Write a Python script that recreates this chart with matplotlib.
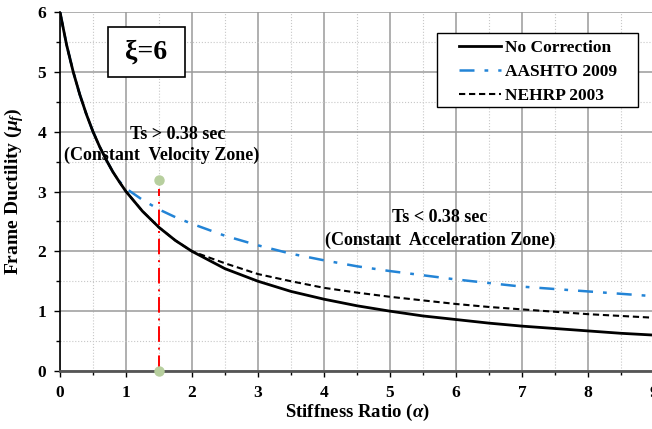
import matplotlib.pyplot as plt
from matplotlib.patches import Rectangle
from matplotlib.ticker import MultipleLocator

plt.rcParams['font.family'] = ['Liberation Serif', 'DejaVu Serif']
plt.rcParams['font.weight'] = 'bold'
plt.rcParams['mathtext.fontset'] = 'custom'
plt.rcParams['mathtext.rm'] = 'Liberation Serif:bold'
plt.rcParams['mathtext.it'] = 'Liberation Serif:italic:bold'

# stiffness ratio and frame ductility
alpha = [0, 0.1, 0.2, 0.3, 0.4, 0.5, 0.6, 0.7, 0.8, 0.9, 1.0, 1.25, 1.5, 1.75,
         2.0, 2.5, 3.0, 3.5, 4.0, 4.5, 5.0, 5.5, 6.0, 6.5, 7.0, 7.5, 8.0, 8.5, 9.0]
no_corr = [6.0, 5.45, 5.0, 4.62, 4.29, 4.0, 3.75, 3.53, 3.33, 3.16, 3.0, 2.67, 2.4, 2.18,
           2.0, 1.71, 1.5, 1.33, 1.2, 1.09, 1.0, 0.92, 0.86, 0.8, 0.75, 0.71, 0.67, 0.63, 0.6]

alpha_aashto = [0, 0.1, 0.2, 0.3, 0.4, 0.5, 0.6, 0.7, 0.8, 0.9, 1.0, 1.25, 1.5, 1.75,
                2.0, 2.5, 3.0, 3.5, 4.0, 4.5, 5.0, 5.5, 6.0, 6.5, 7.0, 7.5, 8.0, 8.5, 9.0]
aashto = [6.0, 5.45, 5.0, 4.62, 4.29, 4.0, 3.75, 3.53, 3.33, 3.17, 3.05, 2.86, 2.7, 2.57,
          2.46, 2.26, 2.1, 1.96, 1.85, 1.75, 1.67, 1.6, 1.53, 1.47, 1.41, 1.37, 1.33, 1.29, 1.25]

alpha_nehrp = [0, 0.1, 0.2, 0.3, 0.4, 0.5, 0.6, 0.7, 0.8, 0.9, 1.0, 1.25, 1.5, 1.75,
               2.0, 2.5, 3.0, 3.5, 4.0, 4.5, 5.0, 5.5, 6.0, 6.5, 7.0, 7.5, 8.0, 8.5, 9.0]
nehrp = [6.0, 5.45, 5.0, 4.62, 4.29, 4.0, 3.75, 3.53, 3.33, 3.16, 3.0, 2.67, 2.4, 2.18,
         2.0, 1.8, 1.62, 1.5, 1.39, 1.31, 1.24, 1.18, 1.12, 1.07, 1.03, 0.99, 0.95, 0.92, 0.89]

ts_alpha = 1.5
ts_top = 3.2

fig = plt.figure(figsize=(6.52, 4.29), dpi=100)
ax = fig.add_axes([60 / 652, 58 / 429, 594 / 652, 359 / 429])

ax.plot(alpha, no_corr, color='black', lw=2.0, label='No Correction', zorder=4)
ax.plot(alpha_aashto, aashto, color='#2384d6', lw=1.8, ls=(0, (6, 4, 1.5, 4)),
        label='AASHTO 2009', zorder=3)
ax.plot(alpha_nehrp, nehrp, color='black', lw=1.5, ls=(0, (3, 1.8)),
        label='NEHRP 2003', zorder=3)

# boundary between the velocity and acceleration zones
ax.plot([ts_alpha, ts_alpha], [0, 3.05], color='red', lw=1.4, ls=(0, (8, 3, 1, 3)), zorder=2)
ax.plot([ts_alpha, ts_alpha], [0, ts_top], ls='none', marker='o', ms=6.5,
        color='#b7cf9e', clip_on=False, zorder=5)

ax.set_xlim(0, 9)
ax.set_ylim(0, 6)
ax.xaxis.set_major_locator(MultipleLocator(1))
ax.xaxis.set_minor_locator(MultipleLocator(0.5))
ax.yaxis.set_major_locator(MultipleLocator(1))
ax.yaxis.set_minor_locator(MultipleLocator(0.5))
ax.grid(which='major', color='#9a9a9a', lw=1.1)
ax.grid(which='minor', color='#c8c8c8', lw=0.8, ls=':')
ax.set_axisbelow(True)
ax.tick_params(which='both', direction='out', length=4, width=1, labelsize=12.5, pad=6)
ax.tick_params(which='minor', length=3)
for s in ['top', 'right']:
    ax.spines[s].set_visible(False)
ax.spines['left'].set_linewidth(1.2)
ax.spines['bottom'].set_color('#555555')
ax.spines['bottom'].set_linewidth(2)

ax.set_xlabel(r'Stiffness Ratio ($\mathit{\alpha}$)', fontsize=13.5, fontweight='bold', labelpad=1)
ax.set_ylabel(r'Frame Ductility ($\mu_f$)', fontsize=14, fontweight='bold', labelpad=8)

# damping ratio box
ax.add_patch(Rectangle((0.081, 0.819), 0.129, 0.139, transform=ax.transAxes,
                       fc='white', ec='black', lw=1.2, zorder=5))
ax.text(0.1455, 0.888, 'ξ=6', transform=ax.transAxes, fontsize=20,
        ha='center', va='center', zorder=6)

ax.text(1.78, 3.95, 'Ts > 0.38 sec', fontsize=13, ha='center', va='center')
ax.text(1.54, 3.61, '(Constant  Velocity Zone)', fontsize=13, ha='center', va='center')
ax.text(5.76, 2.57, 'Ts < 0.38 sec', fontsize=13, ha='center', va='center')
ax.text(5.76, 2.19, '(Constant  Acceleration Zone)', fontsize=13, ha='center', va='center')

# legend frame drawn separately so the entries sit inset from its left edge
ax.add_patch(Rectangle((0.635, 0.735), 0.338, 0.2065, transform=ax.transAxes,
                       fc='white', ec='black', lw=1.0, zorder=5))
leg = ax.legend(loc='upper left', bbox_to_anchor=(0.672, 0.923), fontsize=12.5,
                frameon=False, handlelength=2.4, handletextpad=0.25,
                borderpad=0, labelspacing=0.45, borderaxespad=0)
leg.set_zorder(6)

fig.savefig('out.png', dpi=100)
